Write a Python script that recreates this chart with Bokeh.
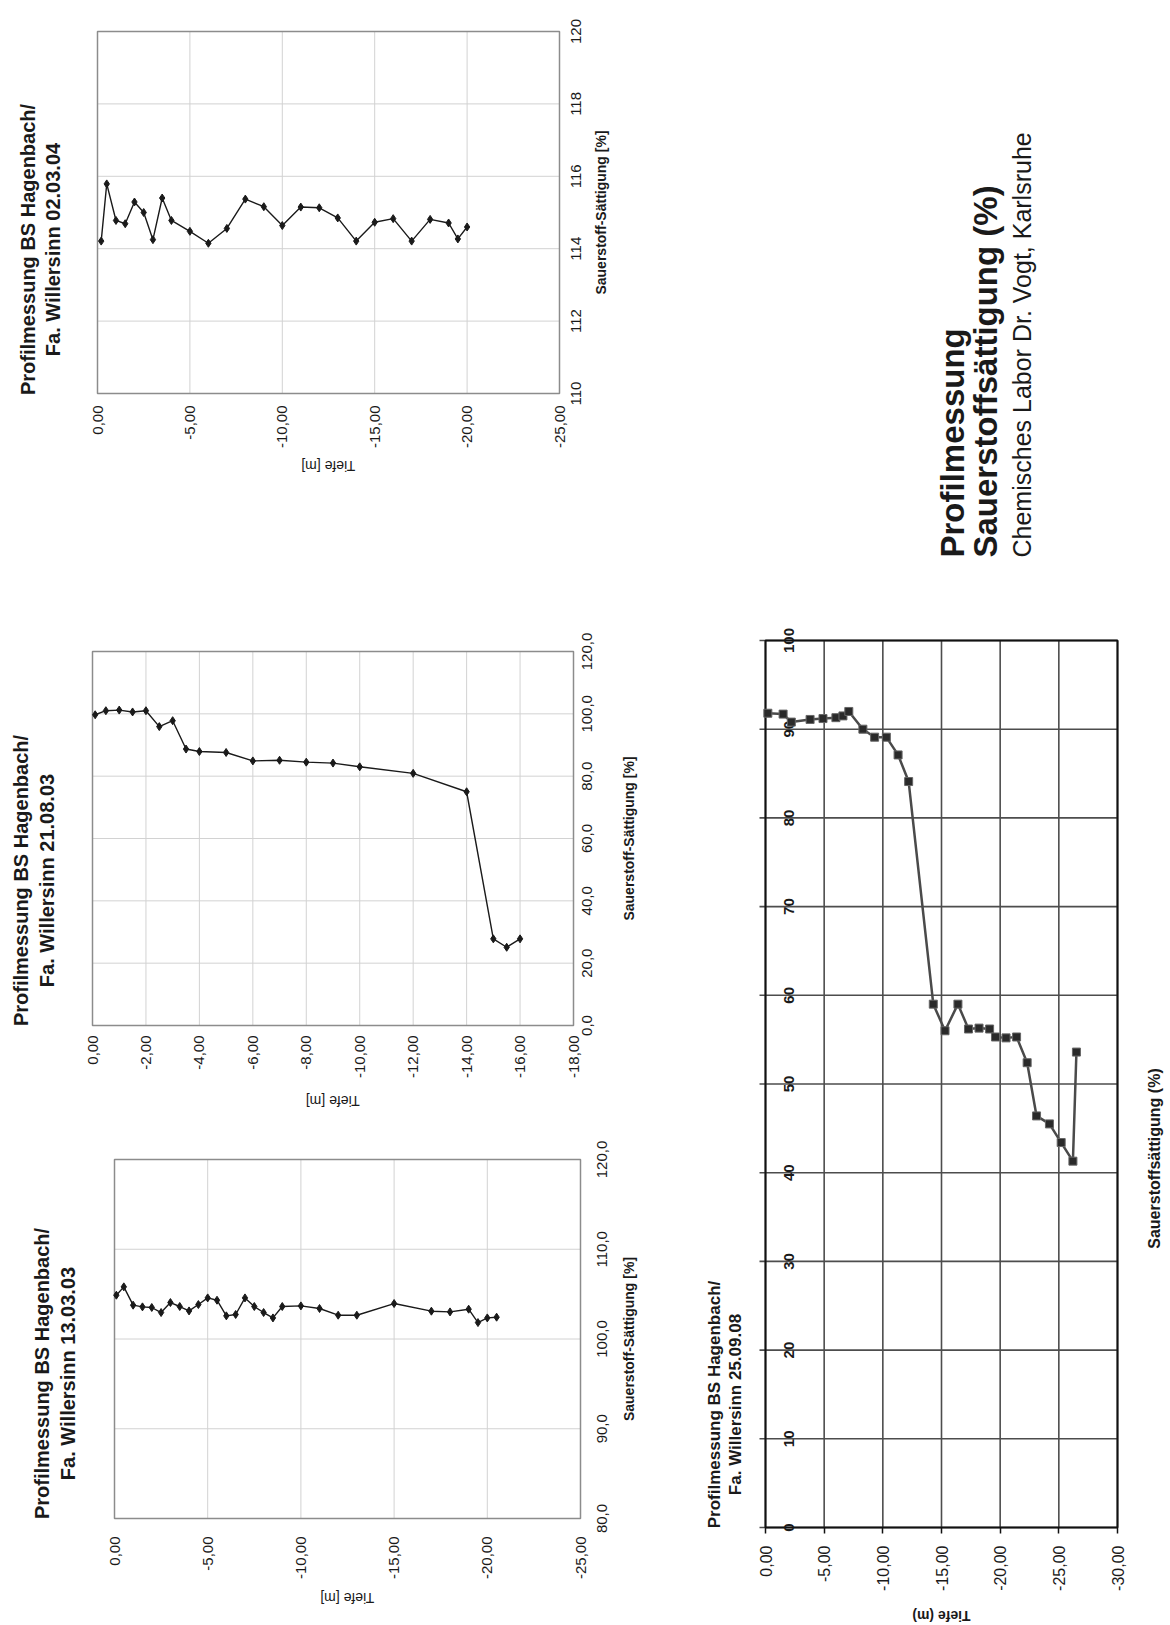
import math
from bokeh.plotting import figure
from bokeh.models import Range1d, FixedTicker, LinearAxis
from bokeh.core.properties import value
from bokeh.layouts import column, row
from bokeh.embed import file_html
from bokeh.resources import INLINE

FONT = "Liberation Sans"
INK = "#1a1a1a"

# ---------------- data ----------------
title_line1 = "Profilmessung BS Hagenbach/"

# Chart A : 02.03.04
a_title2 = "Fa. Willersinn 02.03.04"
a_depth = [-0.2, -0.5, -1.0, -1.5, -2.0, -2.5, -3.0, -3.5, -4.0, -5.0, -6.0, -7.0, -8.0,
           -9.0, -10.0, -11.0, -12.0, -13.0, -14.0, -15.0, -16.0, -17.0, -18.0, -19.0, -19.5, -20.0]
a_sat = [114.21, 115.79, 114.78, 114.69, 115.29, 115.00, 114.25, 115.40, 114.78, 114.48, 114.15,
         114.56, 115.37, 115.16, 114.64, 115.15, 115.13, 114.85, 114.21, 114.73, 114.83, 114.21,
         114.81, 114.71, 114.27, 114.60]
a_depth_ticks = [0, -5, -10, -15, -20, -25]
a_depth_labels = ["0,00", "-5,00", "-10,00", "-15,00", "-20,00", "-25,00"]
a_sat_ticks = [110, 112, 114, 116, 118, 120]
a_sat_labels = ["110", "112", "114", "116", "118", "120"]

# Chart B : 21.08.03
b_title2 = "Fa. Willersinn 21.08.03"
b_depth = [-0.1, -0.5, -1.0, -1.5, -2.0, -2.5, -3.0, -3.5, -4.0, -5.0, -6.0, -7.0, -8.0, -9.0,
           -10.0, -12.0, -14.0, -15.0, -15.5, -16.0]
b_sat = [99.7, 101.0, 101.2, 100.6, 101.0, 95.9, 97.8, 88.7, 87.9, 87.6, 84.9, 85.1, 84.5, 84.2,
         83.0, 80.9, 75.0, 27.8, 25.1, 27.8]
b_depth_ticks = [0, -2, -4, -6, -8, -10, -12, -14, -16, -18]
b_depth_labels = ["0,00", "-2,00", "-4,00", "-6,00", "-8,00", "-10,00", "-12,00", "-14,00",
                  "-16,00", "-18,00"]
b_sat_ticks = [0, 20, 40, 60, 80, 100, 120]
b_sat_labels = ["0,0", "20,0", "40,0", "60,0", "80,0", "100,0", "120,0"]

# Chart C : 13.03.03
c_title2 = "Fa. Willersinn 13.03.03"
c_depth = [-0.1, -0.5, -1.0, -1.5, -2.0, -2.5, -3.0, -3.5, -4.0, -4.5, -5.0, -5.5, -6.0, -6.5,
           -7.0, -7.5, -8.0, -8.5, -9.0, -10.0, -11.0, -12.0, -13.0, -15.0, -17.0, -18.0, -19.0,
           -19.5, -20.0, -20.5]
c_sat = [104.88, 105.81, 103.77, 103.58, 103.51, 102.95, 104.06, 103.62, 103.13, 103.84, 104.58,
         104.32, 102.58, 102.73, 104.58, 103.62, 102.95, 102.35, 103.62, 103.69, 103.40, 102.65,
         102.65, 103.95, 103.10, 103.02, 103.32, 101.83, 102.35, 102.43]
c_depth_ticks = [0, -5, -10, -15, -20, -25]
c_depth_labels = ["0,00", "-5,00", "-10,00", "-15,00", "-20,00", "-25,00"]
c_sat_ticks = [80, 90, 100, 110, 120]
c_sat_labels = ["80,0", "90,0", "100,0", "110,0", "120,0"]

# Chart D : 25.09.08
d_title2 = "Fa. Willersinn 25.09.08"
d_depth = [-0.2, -1.5, -2.2, -3.8, -4.9, -6.0, -6.6, -7.1, -8.3, -9.3, -10.3, -11.3, -12.2, -14.3,
           -15.3, -16.4, -17.3, -18.2, -19.1, -19.6, -20.5, -21.4, -22.3, -23.1, -24.2, -25.2,
           -26.2, -26.5]
d_sat = [91.8, 91.7, 90.8, 91.1, 91.2, 91.3, 91.5, 92.0, 90.0, 89.1, 89.1, 87.1, 84.1, 59.0,
         56.0, 59.0, 56.2, 56.3, 56.2, 55.3, 55.2, 55.3, 52.4, 46.4, 45.5, 43.4, 41.3, 53.6]
d_depth_ticks = [0, -5, -10, -15, -20, -25, -30]
d_depth_labels = ["0,00", "-5,00", "-10,00", "-15,00", "-20,00", "-25,00", "-30,00"]
d_sat_ticks = [0, 10, 20, 30, 40, 50, 60, 70, 80, 90, 100]
d_sat_labels = ["0", "10", "20", "30", "40", "50", "60", "70", "80", "90", "100"]

sat_axis_label = "Sauerstoff-Sättigung [%]"
depth_axis_label = "Tiefe [m]"
d_sat_axis_label = "Sauerstoffsättigung (%)"
d_depth_axis_label = "Tiefe (m)"

info_lines = ["Profilmessung", "Sauerstoffsättigung (%)", "Chemisches Labor Dr. Vogt, Karlsruhe"]

VERT = math.pi / 2      # text reading bottom -> top
FLIP = math.pi          # upside-down text


class Geo:
    """Maps page pixels to data values for one chart (plot box L,R,T,B in page px)."""
    def __init__(self, fig, plot, xspan, yspan):
        self.fx, self.fy, self.fw, self.fh = fig
        self.L, self.R, self.T, self.B = plot
        self.x0, self.x1 = xspan
        self.y0, self.y1 = yspan
        self.ppx = (self.R - self.L) / abs(self.x1 - self.x0)
        self.ppy = (self.B - self.T) / abs(self.y1 - self.y0)

    def dx(self, px):
        return self.x0 - (px - self.L) / self.ppx

    def dy(self, py):
        return self.y0 + (self.B - py) / self.ppy

    def figure(self):
        xr = Range1d(self.dx(self.fx), self.dx(self.fx + self.fw))
        yr = Range1d(self.dy(self.fy + self.fh), self.dy(self.fy))
        p = figure(width=self.fw, height=self.fh, x_range=xr, y_range=yr,
                   x_axis_location="below", y_axis_location=None,
                   output_backend="svg", toolbar_location=None, min_border=0,
                   background_fill_color="white", border_fill_color="white")
        p.outline_line_color = None
        p.grid.visible = False
        return p


def vtext(p, xs, ys, texts, size, bold=False, baseline="middle", align="center"):
    p.text(x=xs, y=ys, text=texts, angle=VERT, text_align=align, text_baseline=baseline,
           text_font=value(FONT), text_font_size=value(f"{size}px"),
           text_font_style=value("bold" if bold else "normal"), text_color=INK)


def depth_axes(p, g, ticks, labels, size, stand, tick_out, tick_color, lab, lab_size,
               lab_bold, lab_half, lab_stand):
    xa = p.xaxis[0]
    xa.fixed_location = g.y0
    xa.ticker = FixedTicker(ticks=ticks)
    xa.axis_line_color = None
    xa.major_tick_out = tick_out
    xa.major_tick_in = 0
    xa.major_tick_line_color = tick_color
    xa.major_tick_line_width = 1.5
    xa.minor_tick_line_color = None
    xa.major_label_overrides = dict(zip(ticks, labels))
    xa.major_label_orientation = VERT
    xa.major_label_standoff = stand
    xa.major_label_text_font = FONT
    xa.major_label_text_font_size = f"{size}px"
    xa.major_label_text_color = INK
    # depth axis title (upside down, as on the scanned page)
    t = round(g.dx((g.L + g.R) / 2 - lab_half), 4)
    la = LinearAxis(ticker=FixedTicker(ticks=[t]), major_label_overrides={t: lab})
    la.fixed_location = g.y0
    la.axis_line_color = None
    la.major_tick_line_color = None
    la.minor_tick_line_color = None
    la.major_tick_out = 0
    la.major_tick_in = 0
    la.major_label_orientation = FLIP
    la.major_label_standoff = lab_stand
    la.major_label_text_font = FONT
    la.major_label_text_font_size = f"{lab_size}px"
    la.major_label_text_font_style = "bold" if lab_bold else "normal"
    la.major_label_text_color = INK
    p.add_layout(la, "below")


def excel_chart(g, depth, sat, dt, dl, st, sl, title2, title_x, title_cy,
                tick_x, axlab_x, axlab_y, xstand, lab_stand):
    p = g.figure()
    grid_c = "#d2d2d2"
    p.segment(x0=dt, x1=dt, y0=[g.y0] * len(dt), y1=[g.y1] * len(dt),
              line_color=grid_c, line_width=1)
    p.segment(x0=[g.x0] * len(st), x1=[g.x1] * len(st), y0=st, y1=st,
              line_color=grid_c, line_width=1)
    p.quad(left=[g.x0], right=[g.x1], bottom=[g.y0], top=[g.y1], fill_color=None,
           line_color="#8c8c8c", line_width=1.5)
    depth_axes(p, g, dt, dl, 15, xstand, 0, None, depth_axis_label, 14, False, 27.2, lab_stand)
    # saturation tick labels and title on the right side
    vtext(p, [g.dx(tick_x)] * len(st), st, sl, 15)
    vtext(p, [g.dx(axlab_x)], [axlab_y], [sat_axis_label], 14, bold=True)
    # data
    p.line(depth, sat, line_color=INK, line_width=1.4)
    p.scatter(depth, sat, marker="diamond", size=8, color=INK)
    # chart title (two lines)
    vtext(p, [g.dx(title_x[0]), g.dx(title_x[1])], [g.dy(title_cy)] * 2,
          [title_line1, title2], 20, bold=True, baseline="alphabetic")
    return p


ga = Geo((0, 0, 640, 560), (97, 559, 31, 393), (0, -25), (110, 120))
pa = excel_chart(ga, a_depth, a_sat, a_depth_ticks, a_depth_labels, a_sat_ticks, a_sat_labels,
                 a_title2, (27, 52), 249, 575, 600, 115, 12, 72)

gb = Geo((0, 560, 650, 555), (92, 573, 651, 1025), (0, -18), (0, 120))
pb = excel_chart(gb, b_depth, b_sat, b_depth_ticks, b_depth_labels, b_sat_ticks, b_sat_labels,
                 b_title2, (20, 46), 880, 586, 628, 60, 10, 75)

gc = Geo((0, 1115, 650, 510), (114, 580, 1159, 1518), (0, -25), (80, 120))
pc = excel_chart(gc, c_depth, c_sat, c_depth_ticks, c_depth_labels, c_sat_ticks, c_sat_labels,
                 c_title2, (41, 67), 1373, 601, 628, 100, 18, 79)

# ---- chart D (right, large) ----
gd = Geo((650, 560, 520, 1065), (765, 1117, 640, 1527), (0, -30), (0, 100))
pd_ = gd.figure()
pd_.segment(x0=d_depth_ticks, x1=d_depth_ticks, y0=[gd.y0] * len(d_depth_ticks),
            y1=[gd.y1] * len(d_depth_ticks), line_color="#4d4d4d", line_width=1.6)
pd_.segment(x0=[gd.dx(gd.L - 6)] * len(d_sat_ticks), x1=[gd.x1] * len(d_sat_ticks),
            y0=d_sat_ticks, y1=d_sat_ticks, line_color="#4d4d4d", line_width=1.6)
pd_.quad(left=[gd.x0], right=[gd.x1], bottom=[gd.y0], top=[gd.y1], fill_color=None,
         line_color="#111111", line_width=2)
depth_axes(pd_, gd, d_depth_ticks, d_depth_labels, 16, 12, 6, "#111111", d_depth_axis_label,
           14, True, 29.2, 88)
vtext(pd_, [gd.dx(788)] * len(d_sat_ticks), d_sat_ticks, d_sat_labels, 15, bold=True)
vtext(pd_, [gd.dx(1154)], [41.6], [d_sat_axis_label], 16, bold=True)
pd_.line(d_depth, d_sat, line_color="#4a4a4a", line_width=2.5)
pd_.scatter(d_depth, d_sat, marker="square", size=8, fill_color="#2a2a2a", line_color="#666666")
vtext(pd_, [gd.dx(714), gd.dx(735)], [gd.dy(1404)] * 2, [title_line1, d_title2], 17,
      bold=True, baseline="alphabetic")

# ---- info text block (page area x 640..1170, y 0..560) ----
pt = figure(width=530, height=560, x_range=Range1d(640, 1170), y_range=Range1d(560, 0),
            x_axis_location=None, y_axis_location=None, output_backend="svg",
            toolbar_location=None, min_border=0)
pt.outline_line_color = None
pt.grid.visible = False
for txt, bx, size, bold in zip(info_lines, (952, 985, 1021), (33, 33, 25), (True, True, False)):
    vtext(pt, [bx], [557], [txt], size, bold=bold, baseline="alphabetic", align="left")

layout = column(row(pa, pt), row(column(pb, pc), pd_))

with open("out.html", "w") as f:
    f.write(file_html(layout, INLINE))
